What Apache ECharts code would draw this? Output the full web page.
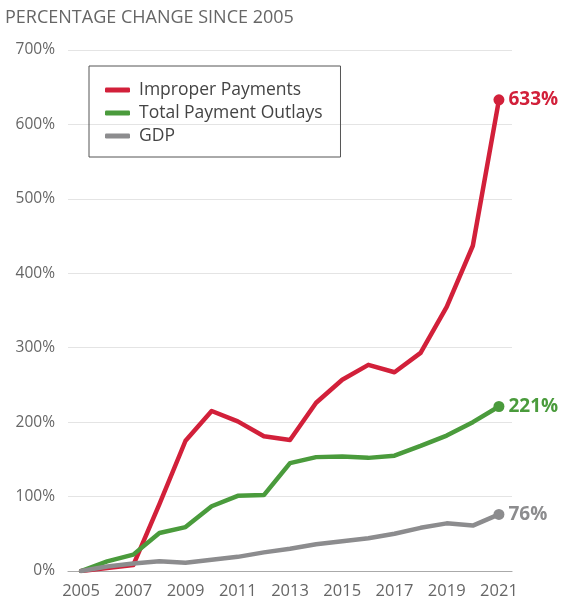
<!DOCTYPE html>
<html>
<head>
<meta charset="utf-8">
<script src="https://cdn.jsdelivr.net/npm/echarts@6/dist/echarts.min.js"></script>
<style>html,body{margin:0;padding:0;background:#fff}#c{width:569px;height:604px}</style>
</head>
<body>
<div id="c"></div>
<script>
const years = ['2005','2006','2007','2008','2009','2010','2011','2012','2013','2014','2015','2016','2017','2018','2019','2020','2021'];
const improperPayments = [0, 4, 8, 90, 175, 215, 201, 181, 176, 226, 257, 277, 267, 293, 355, 437, 633];
const totalOutlays = [0, 13, 22, 51, 59, 87, 101, 102, 145, 153, 154, 152, 155, 168, 182, 200, 221];
const gdp = [0, 6, 10, 13, 11, 15, 19, 25, 30, 36, 40, 44, 50, 58, 64, 61, 76];
const yTicks = [0, 100, 200, 300, 400, 500, 600, 700];

const FONT = '"Open Sans", Lato, sans-serif';
const RED = '#d2203a', GREEN = '#4a9b3c', GRAY = '#8c8c8e';

function mk(name, vals, color) {
  const last = vals.length - 1;
  return {
    name, type: 'line', color,
    lineStyle: { width: 4.5, color, cap: 'round', join: 'round' },
    symbol: 'circle', showSymbol: true,
    data: vals.map((v, i) => i === last ? {
      value: v, symbolSize: 11,
      label: { show: true, position: 'right', distance: 4, formatter: '{c}%',
        color, fontWeight: 'bold', fontSize: 19, fontFamily: FONT }
    } : { value: v, symbolSize: 0 }),
    itemStyle: { color },
    emphasis: { disabled: true }, animation: false
  };
}

const chart = echarts.init(document.getElementById('c'));
chart.setOption({
  animation: false,
  title: { text: 'PERCENTAGE CHANGE SINCE 2005', left: 0, top: 4,
    textStyle: { fontFamily: FONT, fontSize: 18, fontWeight: 'normal', color: '#666' } },
  legend: {
    orient: 'vertical', left: 89, top: 66,
    padding: [15, 18, 12, 16], itemGap: 5,
    borderColor: '#555', borderWidth: 1,
    itemWidth: 25, itemHeight: 5, icon: 'roundRect',
    textStyle: { fontFamily: FONT, fontSize: 17.5, color: '#444', lineHeight: 18, padding: [0, 0, 0, 4] },
    data: ['Improper Payments', 'Total Payment Outlays', 'GDP']
  },
  grid: { left: 68, right: 57, top: 50, bottom: 33, containLabel: false },
  xAxis: {
    type: 'category', data: years, boundaryGap: true,
    axisLine: { lineStyle: { color: '#aaa', width: 1.2 } },
    axisTick: { show: false },
    axisLabel: { interval: 1, fontFamily: FONT, fontSize: 16.5, color: '#666', margin: 12 }
  },
  yAxis: {
    type: 'value', min: yTicks[0], max: yTicks[yTicks.length - 1], interval: 100,
    axisLine: { show: false }, axisTick: { show: false },
    splitLine: { lineStyle: { color: '#e4e4e4', width: 1 } },
    axisLabel: { formatter: '{value}%', fontFamily: FONT, fontSize: 15.5, color: '#666', margin: 13 }
  },
  series: [
    mk('Improper Payments', improperPayments, RED),
    mk('Total Payment Outlays', totalOutlays, GREEN),
    mk('GDP', gdp, GRAY)
  ]
});
</script>
</body>
</html>
